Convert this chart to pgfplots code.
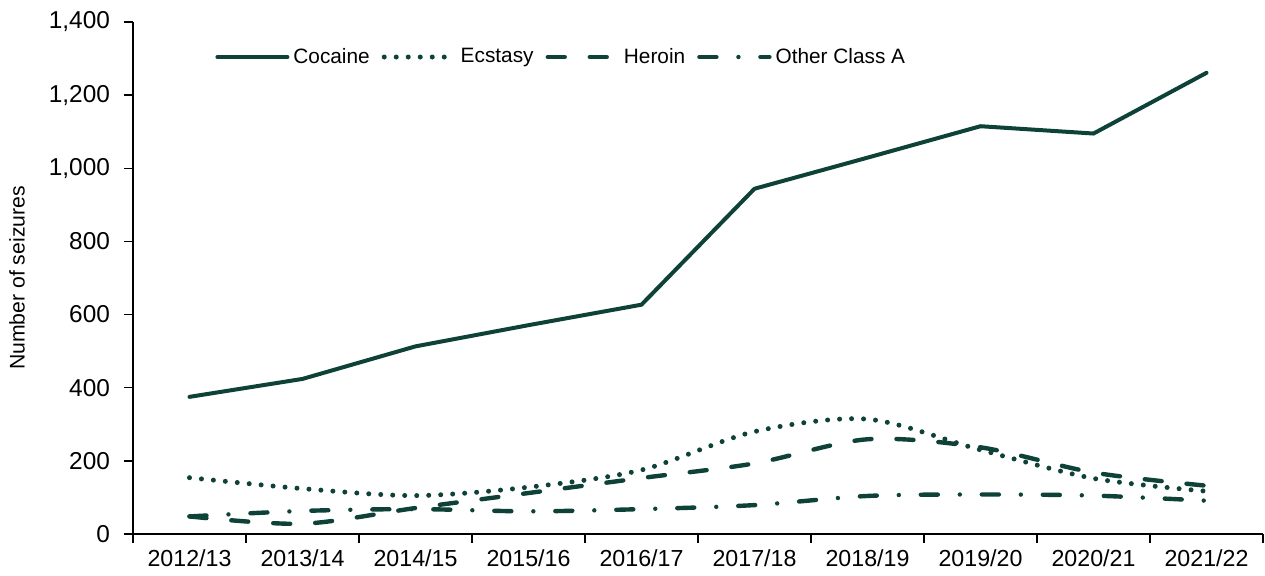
\documentclass[border=0pt]{standalone}
\usepackage{fontspec}
\setmainfont{Liberation Sans}
\usepackage{pgfplots}
\pgfplotsset{compat=1.18}
\definecolor{dg}{RGB}{14,66,56}
\begin{document}
\begin{tikzpicture}
\begin{axis}[
  scale only axis, width=565pt, height=256pt,
  xmin=-0.5, xmax=9.5, ymin=0, ymax=1400,
  axis lines=left, axis line style={-, black, line width=0.7pt},
  xtick={0,...,9},
  xticklabels={2012/13,2013/14,2014/15,2015/16,2016/17,2017/18,2018/19,2019/20,2020/21,2021/22},
  major x tick style={draw=none},
  minor xtick={-0.5,0.5,...,9.5},
  ytick={0,200,...,1400},
  tick align=outside, major tick length=4.5pt, minor tick length=4.5pt,
  tick style={black, line width=0.7pt},
  /pgf/number format/.cd, 1000 sep={,}, assume math mode=true, /pgfplots/.cd,
  xticklabel style={font=\fontsize{11.6}{13}\selectfont, black},
  yticklabel style={font=\fontsize{12.2}{14}\selectfont, black, xshift=-3.5pt},
  ylabel={Number of seizures},
  every axis y label/.style={at={(axis description cs:-0.1027,0.5)}, rotate=90, anchor=center, font=\fontsize{10.6}{12}\selectfont},
  legend style={at={(axis description cs:0.0726,0.9316)}, anchor=west, draw=none, fill=none, inner sep=0pt,
    font=\fontsize{10.4}{12}\selectfont, /tikz/every even column/.append style={column sep=4pt}},
  legend columns=4,
  legend image code/.code={\draw[#1] (0pt,0pt) -- (35pt,0pt);},
  clip=false,
]
\addplot[dg, line width=2pt, line join=round, line cap=round] coordinates {
(0,375) (1,424) (2,513) (3,571) (4,627) (5,944) (6,1029) (7,1115) (8,1095) (9,1261)};
\addlegendentry{Cocaine}
\addplot[dg, line width=2.5pt, line cap=round, dash pattern=on 0pt off 6pt, smooth, tension=0.5] coordinates {
(0,154) (1,124) (2,105) (3,128) (4,175) (5,280) (6,314) (7,230) (8,152) (9,117)};
\addlegendentry{Ecstasy}
\addplot[dg, line width=2.2pt, line cap=round, dash pattern=on 8.5pt off 12.5pt, smooth, tension=0.5] coordinates {
(0,48) (1,28) (2,71) (3,112) (4,153) (5,193) (6,259) (7,237) (8,168) (9,132)};
\addlegendentry{Heroin}
\addplot[dg, line width=2.2pt, line cap=round, dash pattern=on 8.5pt off 11pt on 0pt off 11pt, smooth, tension=0.5] coordinates {
(0,48) (1,63) (2,68) (3,62) (4,68) (5,79) (6,104) (7,108) (8,105) (9,91)};
\addlegendentry{Other Class A}
\coordinate (ll) at (rel axis cs:0,0);
\coordinate (ur) at (rel axis cs:1,1);
\end{axis}
\pgfresetboundingbox
\path ([shift={(-66.5pt,-21pt)}]ll) rectangle ([shift={(1pt,11pt)}]ur);
\end{tikzpicture}
\end{document}
